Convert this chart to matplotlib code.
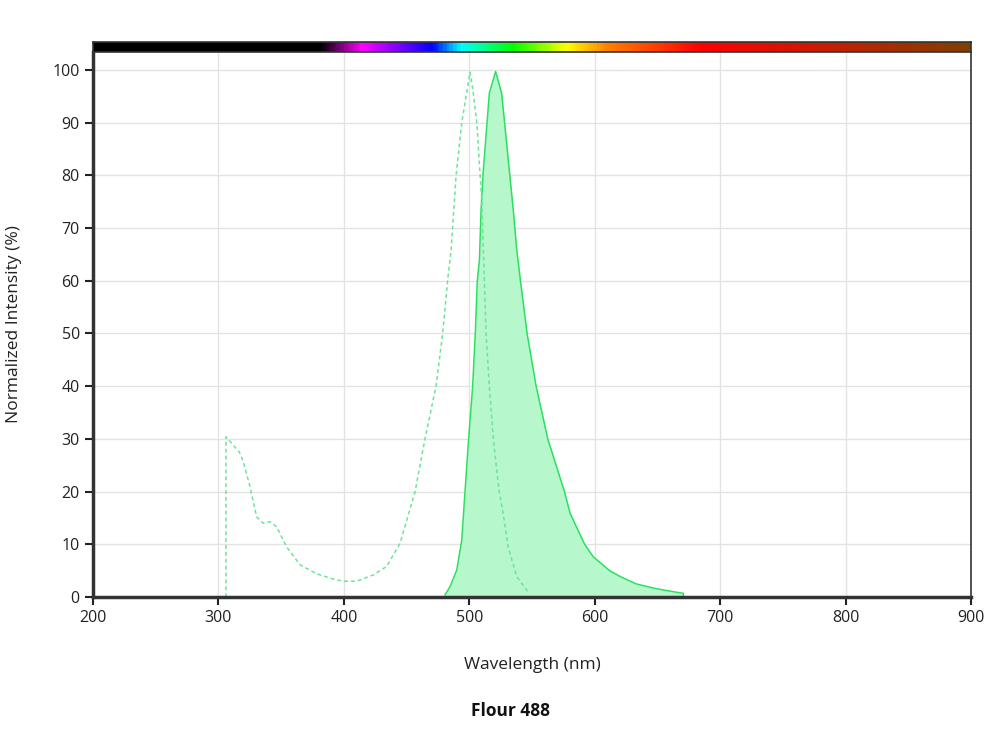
import numpy as np
import matplotlib.pyplot as plt
from matplotlib.colors import LinearSegmentedColormap

plt.rcParams['font.family'] = ['Open Sans', 'DejaVu Sans']

# excitation spectrum (dashed)
ex_nm = [306, 306, 316.7, 319.8, 325.2, 330.5, 335.8, 341.1, 346.5, 354.4, 365.1, 378.4,
         391.7, 399.6, 410.2, 423.5, 434.1, 444.8, 456.8, 464.7, 473.5, 478.8, 482.8, 485.5,
         489.5, 494, 497.5, 500.6, 503, 506, 510, 512, 513.4, 516, 519.2, 523.8, 527, 531,
         537.8, 545.8, 546.3]
ex_val = [0, 30.4, 27.5, 25.7, 20.9, 15.2, 14.0, 14.3, 13.3, 9.5, 6.1, 4.4,
          3.4, 3.0, 3.0, 4.2, 5.8, 10.2, 20, 30, 40, 50, 60.2, 65.8,
          80, 90, 95, 99.6, 96, 90, 75, 60.2, 50, 40, 30, 20, 15.9, 9.5,
          3.9, 1.3, 0.7]

# emission spectrum (filled)
em_nm = [480.7, 484.7, 490, 494, 496.6, 499.5, 502.7, 504.8, 506.4, 508.1, 509.4, 511.2,
         513.9, 516, 521, 525.8, 528.5, 531.9, 535.1, 537.8, 540.7, 546.1, 553.3, 562.6,
         575.9, 580.4, 592, 599, 612, 620.3, 633, 646.9, 658, 670.7, 670.7]
em_val = [0.4, 2.0, 5.1, 10.8, 20, 30, 40, 50, 60, 64.0, 73.4, 81.0,
          89.2, 95.6, 99.7, 95.6, 89.2, 81.0, 73.4, 66, 60.2, 50, 40, 30,
          20, 15.9, 10, 7.6, 5, 3.9, 2.5, 1.7, 1.2, 0.7, 0]

# visible spectrum bar
spec_nm = [200, 381, 414, 470, 493, 535, 578, 610, 685, 797, 900]
spec_col = ['#000000', '#000000', '#ff00ff', '#0000ff', '#00ffff', '#00ff00', '#ffff00',
            '#ff8000', '#ff0000', '#c02000', '#804000']

fig = plt.figure(figsize=(10.01, 7.38), dpi=100)
ax = fig.add_axes([0.0929, 0.191, 0.8771, 0.7385])

ax.fill_between(em_nm, em_val, 0, color='#b6f7cc', lw=0)
ax.plot(em_nm, em_val, color='#2be060', lw=1.1)
ax.plot(ex_nm, ex_val, color='#6ee39a', lw=1.1, ls=(0, (2.5, 2)))

ax.set_xlim(200, 900)
ax.set_ylim(0, 103.4)
ax.set_xticks(np.arange(200, 901, 100))
ax.set_yticks(np.arange(0, 101, 10))
ax.grid(color='#e3e3e3', lw=1)
ax.set_axisbelow(True)
ax.tick_params(direction='out', length=6, width=1.5, colors='#222222', labelsize=11.5)
for s in ['left', 'bottom']:
    ax.spines[s].set_linewidth(2.5)
    ax.spines[s].set_color('#333333')
ax.spines['right'].set_linewidth(1.2)
ax.spines['right'].set_color('#333333')
ax.spines['top'].set_visible(False)

ax.set_xlabel('Wavelength (nm)', fontsize=12.5, color='#222222')
ax.set_ylabel('Normalized Intensity (%)', fontsize=12.5, color='#222222')
ax.xaxis.set_label_coords(0.5, -0.110)
ax.yaxis.set_label_coords(-0.081, 0.5)
fig.text(0.51, 0.0366, 'Flour 488', ha='center', va='center', fontsize=12.5,
         fontweight='bold', color='#111111')

# spectrum colour bar on top
cax = fig.add_axes([0.0929, 0.9295, 0.8771, 0.0136])
pos = [(v - 200) / 700 for v in spec_nm]
cmap = LinearSegmentedColormap.from_list('spec', list(zip(pos, spec_col)))
cax.imshow(np.linspace(0, 1, 700)[None, :], aspect='auto', cmap=cmap, extent=[200, 900, 0, 1])
cax.set_xticks([])
cax.set_yticks([])
for s in cax.spines.values():
    s.set_color('#333333')
    s.set_linewidth(1.2)

fig.savefig('out.png', dpi=100)
